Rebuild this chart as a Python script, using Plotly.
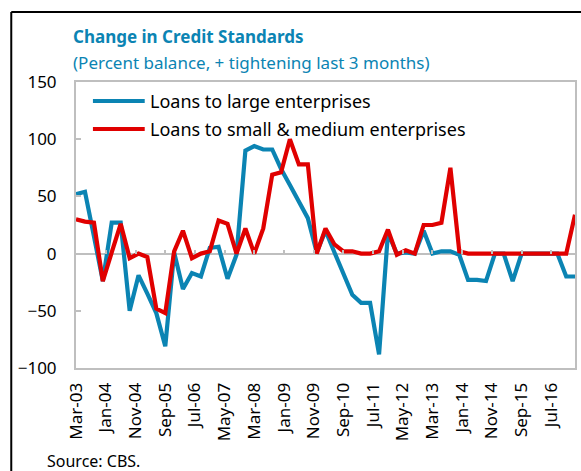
import pandas as pd
import plotly.graph_objects as go

# Quarterly observations, Mar-03 .. Mar-17
quarters = pd.date_range("2003-03-01", periods=57, freq="3MS")

large = [52, 54, 15, -24, 27, 27, -50, -19, -35, -52,
         -81, 1, -31, -17, -20, 5, 6, -22, -1, 90,
         94, 91, 91, 74, 60, 45, 31, 1, 20, 1,
         -18, -36, -43, -43, -88, 18, 0, 1, 0, 20,
         0, 2, 2, -1, -23, -23, -24, 0, 0, -24,
         0, 0, 0, 0, 0, -20, -20]

sme = [30, 28, 27, -24, 1, 26, -4, 0, -3, -48,
       -52, 2, 20, -4, 0, 2, 29, 26, 0, 22,
       0, 22, 69, 71, 100, 78, 78, 0, 22, 8,
       2, 2, 0, 0, 2, 21, -1, 3, 0, 25,
       25, 27, 75, 2, 0, 0, 0, 0, 0, 0,
       0, 0, 0, 0, 0, 0, 34]

tick_dates = ["2003-03-01", "2004-01-01", "2004-11-01", "2005-09-01", "2006-07-01",
              "2007-05-01", "2008-03-01", "2009-01-01", "2009-11-01", "2010-09-01",
              "2011-07-01", "2012-05-01", "2013-03-01", "2014-01-01", "2014-11-01",
              "2015-09-01", "2016-07-01"]
tick_labels = ["Mar-03", "Jan-04", "Nov-04", "Sep-05", "Jul-06", "May-07", "Mar-08",
               "Jan-09", "Nov-09", "Sep-10", "Jul-11", "May-12", "Mar-13", "Jan-14",
               "Nov-14", "Sep-15", "Jul-16"]

series_names = ["Loans to large enterprises", "Loans to small & medium enterprises"]

BLUE = "#0b84b3"
RED = "#e00000"
GRAY = "#bfbfbf"
FONT = "Noto Sans"

W, H = 581, 471
L, R, T, B = 76, 4, 82, 103
pw, ph = W - L - R, H - T - B


def px(x):
    return (x - L) / pw


def py(y):
    return (H - B - y) / ph


fig = go.Figure()
fig.add_trace(go.Scatter(x=quarters, y=large, mode="lines", name=series_names[0],
                         line=dict(color=BLUE, width=4.2), showlegend=False))
fig.add_trace(go.Scatter(x=quarters, y=sme, mode="lines", name=series_names[1],
                         line=dict(color=RED, width=4.2), showlegend=False))
# dummy trace to carry the zero-line tick axis
fig.add_trace(go.Scatter(x=[quarters[0]], y=[0], xaxis="x2", mode="markers",
                         marker=dict(opacity=0), showlegend=False, hoverinfo="skip"))

xrange = [quarters[0], quarters[-1]]

fig.update_layout(
    width=W, height=H,
    margin=dict(l=L, r=R, t=T, b=B),
    paper_bgcolor="white", plot_bgcolor="white",
    font=dict(family=FONT, color="#000000"),
    xaxis=dict(type="date", range=xrange, tickmode="array", tickvals=tick_dates,
               ticktext=tick_labels, tickangle=-90, ticks="", showgrid=False,
               zeroline=False, showline=True, linecolor=GRAY, linewidth=2, mirror=True,
               ticklabelstandoff=6,
               tickfont=dict(size=17, family=FONT, color="#000")),
    xaxis2=dict(type="date", range=xrange, overlaying="x", anchor="free", position=0.4,
                tickmode="array", tickvals=tick_dates, ticks="inside", ticklen=4,
                tickwidth=1.5, tickcolor=GRAY, showticklabels=False, showgrid=False,
                showline=False, zeroline=False),
    yaxis=dict(range=[-100, 150], tickmode="array", tickvals=[-100, -50, 0, 50, 100, 150],
               ticks="inside", ticklen=5, tickcolor=GRAY, tickwidth=1.5,
               showgrid=False, zeroline=True, zerolinecolor=GRAY, zerolinewidth=2,
               showline=True, linecolor=GRAY, linewidth=2, mirror=True,
               ticklabelstandoff=14,
               tickfont=dict(size=17, family=FONT, color="#000")),
    showlegend=False,
)

shapes = [
    # outer black frame (open to the right and bottom)
    dict(type="line", xref="paper", yref="paper", x0=px(11), x1=px(11), y0=py(480), y1=py(12),
         line=dict(color="#000", width=2)),
    dict(type="line", xref="paper", yref="paper", x0=px(11), x1=px(600), y0=py(12), y1=py(12),
         line=dict(color="#000", width=2)),
    # legend samples
    dict(type="line", xref="paper", yref="paper", x0=px(93), x1=px(145), y0=py(101), y1=py(101),
         line=dict(color=BLUE, width=4.2)),
    dict(type="line", xref="paper", yref="paper", x0=px(93), x1=px(145), y0=py(129), y1=py(129),
         line=dict(color=RED, width=4.2)),
]
fig.update_layout(shapes=shapes)

annotations = [
    dict(text="<b>Change in Credit Standards</b>", x=px(71), y=py(36), xref="paper", yref="paper",
         xanchor="left", yanchor="middle", showarrow=False,
         font=dict(size=17, color=BLUE, family=FONT)),
    dict(text="(Percent balance, + tightening last 3 months)", x=px(71), y=py(63),
         xref="paper", yref="paper", xanchor="left", yanchor="middle", showarrow=False,
         font=dict(size=17, color=BLUE, family=FONT)),
    dict(text=series_names[0], x=px(148), y=py(101), xref="paper", yref="paper",
         xanchor="left", yanchor="middle", showarrow=False,
         font=dict(size=18, color="#000", family=FONT)),
    dict(text=series_names[1], x=px(148), y=py(129), xref="paper", yref="paper",
         xanchor="left", yanchor="middle", showarrow=False,
         font=dict(size=18, color="#000", family=FONT)),
    dict(text="Source: CBS.", x=px(45), y=py(461), xref="paper", yref="paper",
         xanchor="left", yanchor="middle", showarrow=False,
         font=dict(size=16, color="#000", family=FONT)),
]
fig.update_layout(annotations=annotations)

fig.write_html("out.html", config={"displayModeBar": False},
               post_script="document.body.style.margin='0';document.body.style.padding='0';")
